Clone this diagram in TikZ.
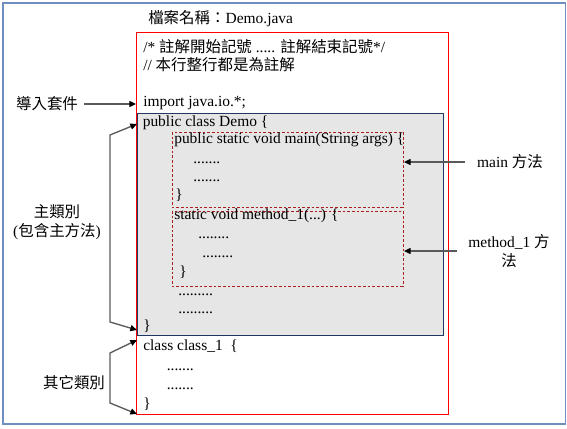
\documentclass[tikz,border=0pt]{standalone}
\usepackage{fontspec}
\setmainfont{Liberation Serif}
\newfontfamily\cjk{Noto Sans CJK TC}
\newcommand\zh[1]{{\cjk #1}}
\usetikzlibrary{arrows.meta, positioning}
\definecolor{frameblue}{RGB}{111,143,192}
\definecolor{classgray}{RGB}{230,230,230}
\definecolor{classnavy}{RGB}{31,56,100}
\definecolor{methodred}{RGB}{170,30,30}
\definecolor{arrowgray}{RGB}{90,90,90}

\begin{document}
\begin{tikzpicture}[x=0.75pt, y=-0.75pt,
      code/.style={anchor=base west, inner sep=0pt, font=\fontsize{11.6}{14}\selectfont},
      note/.style={inner sep=0pt, align=center, font=\fontsize{11.6}{14}\selectfont},
      pointer/.style={-{Triangle[length=5pt, width=4.5pt, color=black]},
                    draw=arrowgray, line width=1pt},
      bracket/.style={{Triangle[length=5pt, width=4.5pt, color=black]}-{Triangle[length=5pt, width=4.5pt, color=black]},
                    draw=arrowgray, line width=1pt},
      methodbox/.style={draw=methodred, dash pattern=on 2pt off 1.5pt, line width=0.75pt}
    ]
      \useasboundingbox (0,0) rectangle (567,428);
      \draw[frameblue, line width=1.1pt] (3,3) rectangle (565.5,424);

      % class boxes
      \draw[draw=classnavy, fill=classgray, line width=0.6pt] (137,113) rectangle (443,335);
      \draw[methodbox] (172,132) rectangle (403,207);
      \draw[methodbox] (172,211) rectangle (403,286);
      \draw[red, line width=0.75pt] (136,33) rectangle (448,414);

      % source text
      \node[code] (title) at (148,24) {\zh{檔案名稱：}Demo.java};
      \node[code] (cmt1) at (143,53) {/* \zh{註解開始記號} ..... \zh{註解結束記號}*/};
      \node[code] (cmt2) at (143,70) {// \zh{本行整行都是為註解}};
      \node[code] (imp) at (143,106.5) {import java.io.*;};
      \node[code] (cls) at (142.5,126) {public class Demo \{};
      \node[code] (mainhd) at (174,143.5) {public static void main(String args) \{};
      \node[code] (mainl1) at (193,163) {.......};
      \node[code] (mainl2) at (193,181.5) {.......};
      \node[code] (mainend) at (175,199.5) {\}};
      \node[code] (m1hd) at (174,219) {static void method\_1(...) \{};
      \node[code] (m1l1) at (198,238) {........};
      \node[code] (m1l2) at (202,257) {........};
      \node[code] (m1end) at (179,276) {\}};
      \node[code] (clsl1) at (178,295.5) {.........};
      \node[code] (clsl2) at (178,313) {.........};
      \node[code] (clsend) at (143,330.5) {\}};
      \node[code] (c1hd) at (143,350.5) {class class\_1 \ \{};
      \node[code] (c1l1) at (166.5,370.5) {.......};
      \node[code] (c1l2) at (166.5,389) {.......};
      \node[code] (c1end) at (143,408) {\}};

      % arrow targets
      \coordinate (impin) at (136,104);
      \coordinate (demotop) at (137,124);
      \coordinate (demobot) at (137,330);
      \coordinate (c1top) at (137,340);
      \coordinate (c1bot) at (137,414);
      \coordinate (mainin) at (404,162);
      \coordinate (m1in) at (404,251);

      % labels
      \node[note] (impnote) at (47,104) {\zh{導入套件}};
      \node[note] (demonote) at (57,222) {\zh{主類別}\\(\zh{包含主方法})};
      \node[note] (c1note) at (74,383) {\zh{其它類別}};
      \node[note] (mainnote) at (510,162) {main \zh{方法}};
      \node[note] (m1note) at (509,251) {method\_1 \zh{方}\\\zh{法}};

      \draw[pointer, shorten <=4.5pt] (impnote) -- (impin);
      \draw[pointer, shorten <=9pt] (mainnote) -- (mainin);
      \draw[pointer, shorten <=8pt] (m1note) -- (m1in);
      \draw[bracket] (demotop) -- ++(-27,11) -- ++(0,187) -- (demobot);
      \draw[bracket] (c1top) -- ++(-27,13) -- ++(0,50) -- (c1bot);
    \end{tikzpicture}
\end{document}
